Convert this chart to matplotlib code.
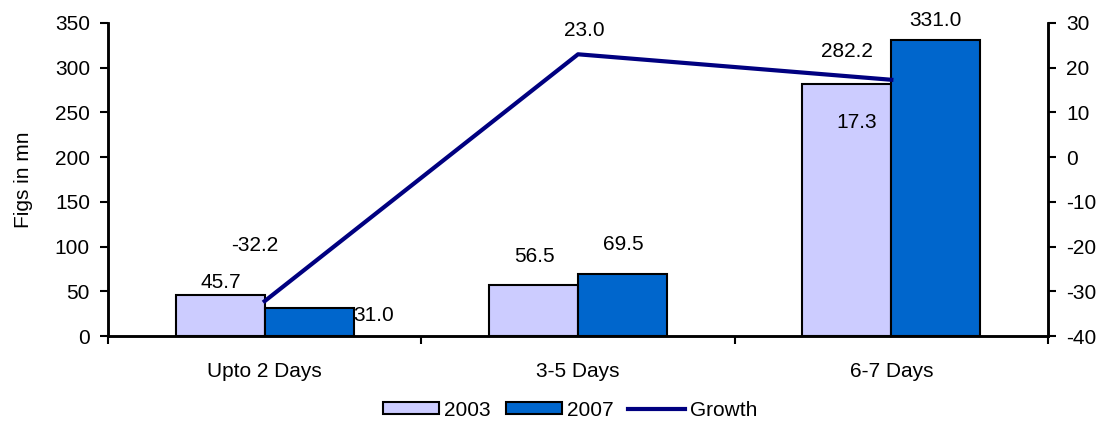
import numpy as np
import matplotlib.pyplot as plt
from matplotlib.patches import Patch
from matplotlib.lines import Line2D

plt.rcParams['font.family'] = ['Liberation Sans', 'DejaVu Sans']
plt.rcParams['axes.unicode_minus'] = False

# Daten
kategorien = ['Upto 2 Days', '3-5 Days', '6-7 Days']
werte_2003 = [45.7, 56.5, 282.2]
werte_2007 = [31.0, 69.5, 331.0]
wachstum = [-32.2, 23.0, 17.3]

# Beschriftungs-Versatz in Pixeln (wie im Original gesetzt)
off_2003 = [(1, 13), (1, 29), (0, 32)]
off_2007 = [(64, -7), (1, 29), (0, 19)]
off_growth = [(-10, 56), (6, 24), (-35, -43)]

fs = 15

fig = plt.figure(figsize=(11.07, 4.21), dpi=100)
ax = fig.add_axes([0.0976, 0.2019, 0.8491, 0.7435])
ax2 = ax.twinx()

x = np.arange(len(kategorien))
w = 0.284
ax.bar(x - w / 2, werte_2003, w, color='#CCCCFF', edgecolor='black', linewidth=1.5, zorder=2)
ax.bar(x + w / 2, werte_2007, w, color='#0066CC', edgecolor='black', linewidth=1.5, zorder=2)
ax2.plot(x, wachstum, color='#000080', linewidth=3, zorder=3)

ax.set_xlim(-0.5, 2.5)
ax.set_ylim(0, 350)
ax.set_yticks(np.arange(0, 351, 50))
ax2.set_ylim(-40, 30)
ax2.set_yticks(np.arange(-40, 31, 10))

ax.set_xticks([-0.5, 0.5, 1.5, 2.5])
ax.set_xticklabels([])
ax.set_xticks(x, minor=True)
ax.set_xticklabels(kategorien, minor=True)
ax.tick_params(axis='x', which='minor', length=0, pad=19, labelsize=fs)
ax.tick_params(axis='x', which='major', length=6, width=1.5, direction='out')
ax.tick_params(axis='y', length=6, width=1.5, pad=7, labelsize=fs)
ax2.tick_params(axis='y', length=6, width=1.5, pad=7, labelsize=fs)

for a in (ax, ax2):
    a.spines['top'].set_visible(False)
    for s in ('left', 'right', 'bottom'):
        a.spines[s].set_linewidth(1.8)

ax.set_ylabel('Figs in mn', fontsize=fs)
ax.yaxis.set_label_coords(-0.08, 0.5)

# Werte beschriften
for i in range(len(kategorien)):
    ax.annotate(f'{werte_2003[i]:.1f}', (x[i] - w / 2, werte_2003[i]), xytext=off_2003[i],
                textcoords='offset pixels', ha='center', va='center', fontsize=fs, zorder=5)
    ax.annotate(f'{werte_2007[i]:.1f}', (x[i] + w / 2, werte_2007[i]), xytext=off_2007[i],
                textcoords='offset pixels', ha='center', va='center', fontsize=fs, zorder=5)
    ax2.annotate(f'{wachstum[i]:.1f}', (x[i], wachstum[i]), xytext=off_growth[i],
                 textcoords='offset pixels', ha='center', va='center', fontsize=fs)

handles = [Patch(facecolor='#CCCCFF', edgecolor='black', linewidth=1.5),
           Patch(facecolor='#0066CC', edgecolor='black', linewidth=1.5),
           Line2D([], [], color='#000080', linewidth=3)]
fig.legend(handles, ['2003', '2007', 'Growth'], loc='center', ncol=3, frameon=False,
           fontsize=fs, bbox_to_anchor=(0.515, 0.026), handlelength=2.7, handleheight=0.55,
           handletextpad=0.25, columnspacing=0.7, borderpad=0)

fig.savefig('out.png', dpi=100)
